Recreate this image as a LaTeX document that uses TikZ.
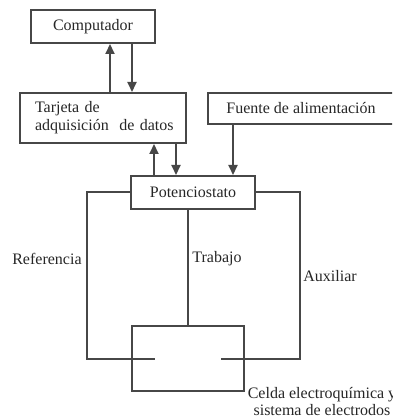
\documentclass[tikz,border=0pt]{standalone}
\usepackage{fontspec}
\setmainfont{Liberation Serif}
\usetikzlibrary{arrows.meta}
\definecolor{lc}{HTML}{474747}
\definecolor{tc}{HTML}{262626}
\begin{document}
\begin{tikzpicture}[x=0.5pt,y=-0.5pt,
  box/.style={draw=lc, line width=1pt, rectangle, inner sep=0pt, text=tc,
    font=\fontsize{8}{9}\selectfont},
  wire/.style={draw=lc, line width=1pt},
  arr/.style={wire, -{Triangle[length=5pt,width=4.5pt]}},
  lbl/.style={text=tc, font=\fontsize{8}{8.5}\selectfont, inner sep=0pt},
]
\useasboundingbox (0,0) rectangle (392,416);
\clip (0,0) rectangle (392,416);
% boxes
\node[box, minimum width=62pt, minimum height=16.5pt] (comp) at (93,26.5) {Computador};
\node[box, text width=83pt, inner xsep=0pt, minimum height=25pt, align=left] (tarj) at (103,118)
  {\hspace*{7.5pt}Tarjeta de\\\hspace*{7.5pt}adquisición\ \ de datos};
\node[box, minimum width=93pt, minimum height=15.5pt] (fuente) at (301,108.5) {Fuente de alimentación};
\node[box, minimum width=62pt, minimum height=16.5pt] (pot) at (193,192.5) {Potenciostato};
\node[box, minimum width=56pt, minimum height=32.5pt] (cell) at (188,358.5) {};
% arrow columns
\coordinate (c1) at (110,0);
\coordinate (c2) at (132,0);
\coordinate (c3) at (154,0);
\coordinate (c4) at (176,0);
\coordinate (c5) at (233,0);
\draw[arr] (tarj.north -| c1) -- (comp.south -| c1);
\draw[arr] (comp.south -| c2) -- (tarj.north -| c2);
\draw[arr] (pot.north -| c3) -- (tarj.south -| c3);
\draw[arr] (tarj.south -| c4) -- (pot.north -| c4);
\draw[arr] (fuente.south -| c5) -- (pot.north -| c5);
% electrode wires
\coordinate (refEnd) at (155,359);
\coordinate (auxEnd) at (221,359);
\draw[wire] (pot.west) -| (87,359) -- (refEnd);
\draw[wire] (pot.south -| cell.north) -- (cell.north);
\draw[wire] (pot.east) -| (300,359) -- (auxEnd);
% labels
\node[lbl, anchor=east] (lref) at (82,259) {Referencia};
\node[lbl, anchor=west] (ltrab) at (192,259) {Trabajo};
\node[lbl, anchor=west] (laux) at (303,276) {Auxiliar};
\node[lbl, align=center] (lcell) at (322,402) {Celda electroquímica y\\sistema de electrodos};
\end{tikzpicture}
\end{document}
